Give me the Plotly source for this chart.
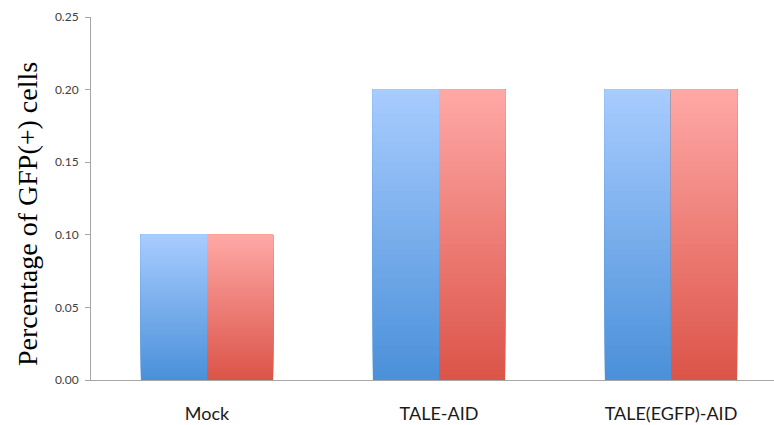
import plotly.graph_objects as go

# Chart data
categories = ["Mock", "TALE-AID", "TALE(EGFP)-AID"]
series_blue = [0.10, 0.20, 0.20]
series_red = [0.10, 0.20, 0.20]
y_ticks = [0.00, 0.05, 0.10, 0.15, 0.20, 0.25]
y_tick_labels = ["0.00", "0.05", "0.10", "0.15", "0.20", "0.25"]

# Vertical gradient endpoints (bottom colour, top colour)
blue_grad = ((74, 144, 217), (168, 204, 255))
red_grad = ((219, 84, 72), (255, 168, 166))

N_STEPS = 60
BAR_W = 0.285


def mix(c0, c1, t):
    return "rgb({},{},{})".format(*[round(a + (b - a) * t) for a, b in zip(c0, c1)])


fig = go.Figure()


def add_gradient_bars(values, grad, offset):
    # Each layer runs from a rising base up to the full value, so the
    # later (lighter) layers overlap earlier ones and build a smooth fade.
    for k in range(N_STEPS):
        frac = k / N_STEPS
        bases = [v * frac for v in values]
        heights = [v - b for v, b in zip(values, bases)]
        fig.add_trace(go.Bar(
            x=categories, y=heights, base=bases,
            width=BAR_W, offset=offset,
            marker=dict(color=mix(grad[0], grad[1], (k + 0.5) / N_STEPS),
                        line=dict(width=0)),
            showlegend=False, hoverinfo="skip",
        ))


add_gradient_bars(series_blue, blue_grad, -BAR_W)
add_gradient_bars(series_red, red_grad, 0.0)

axis_col = "#A6A6A6"
fig.update_layout(
    width=774, height=425,
    margin=dict(l=91, r=0, t=17, b=45),
    paper_bgcolor="white", plot_bgcolor="white",
    barmode="overlay",
    xaxis=dict(
        range=[-0.5, 2.444], showline=True, linecolor=axis_col, linewidth=1,
        showgrid=False, zeroline=False, ticks="", automargin=False,
        tickfont=dict(family="Lato", size=18, color="#1a1a1a"),
        ticklabelstandoff=17,
    ),
    yaxis=dict(
        range=[0, 0.25], showline=True, linecolor=axis_col, linewidth=1,
        showgrid=False, zeroline=False, automargin=False,
        tickvals=y_ticks, ticktext=y_tick_labels,
        ticks="outside", ticklen=5, tickcolor=axis_col,
        tickfont=dict(family="Lato", size=12, color="#404040"),
        ticklabelstandoff=4,
    ),
    annotations=[dict(
        text="Percentage of GFP(+) cells",
        xref="paper", yref="paper", x=(27 - 91) / 683, y=0.457,
        xanchor="center", yanchor="middle", textangle=-90, showarrow=False,
        font=dict(family="Liberation Serif", size=28, color="black"),
    )],
)

fig.write_html("out.html")
